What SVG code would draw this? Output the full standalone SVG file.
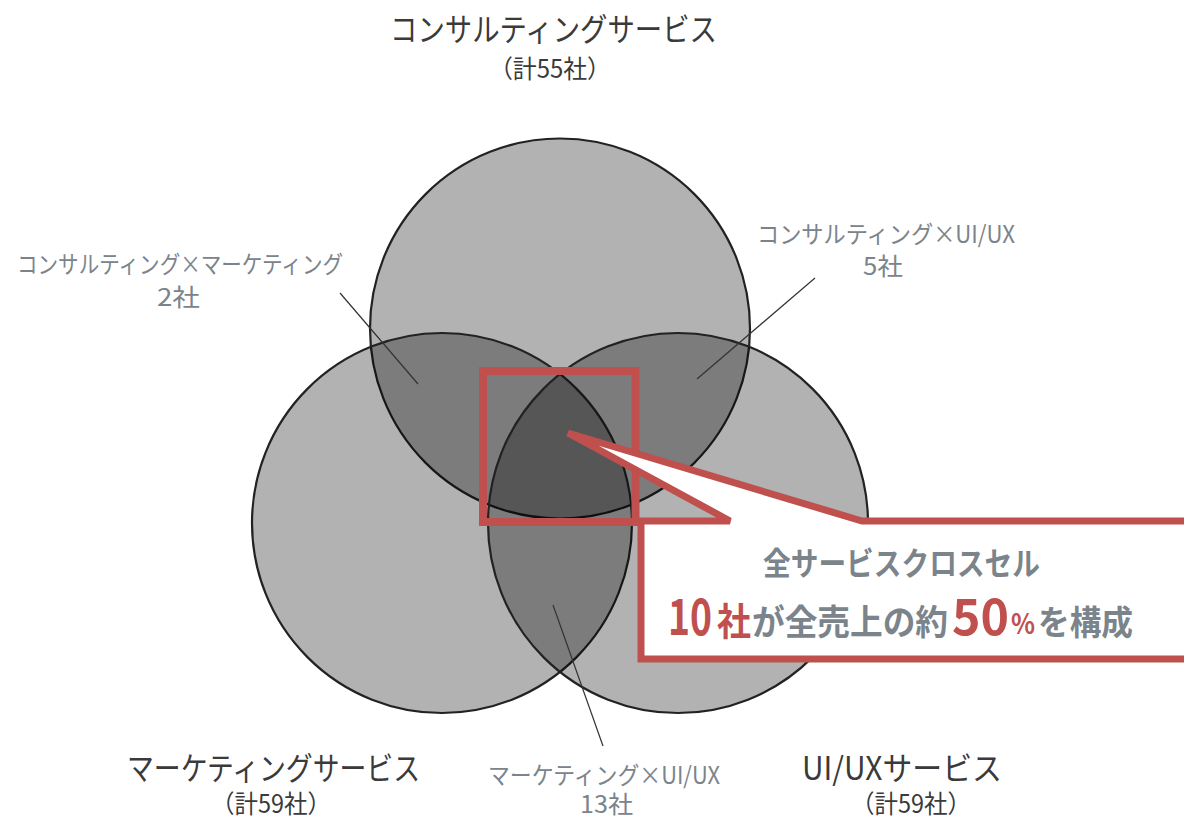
<svg xmlns="http://www.w3.org/2000/svg" width="1184" height="819" viewBox="0 0 1184 819">
<style>
text{font-family:"Noto Sans CJK JP","Noto Sans",sans-serif;}
.circ{fill:#000;fill-opacity:0.3;stroke:#222;stroke-width:2.2;}
.title{fill:#3a3a3a;font-size:32px;}
.sub{fill:#3a3a3a;font-size:25px;}
.lbl{fill:#7b848b;font-size:24px;}
.lead{stroke:#333;stroke-width:1.2;fill:none;}
.cg{fill:#7b848b;font-weight:bold;}
.cr{fill:#c0504d;font-weight:bold;}
</style>
<rect width="1184" height="819" fill="#fff"/>
<g id="circle-consulting"><circle class="circ" cx="560" cy="328.5" r="190"/></g>
<g id="circle-marketing"><circle class="circ" cx="442" cy="523" r="190"/></g>
<g id="circle-uiux"><circle class="circ" cx="678" cy="523" r="190"/></g>
<g id="connectors">
<line class="lead" x1="340" y1="293" x2="418" y2="384"/>
<line class="lead" x1="815" y1="278" x2="697" y2="379"/>
<line class="lead" x1="553" y1="605" x2="603" y2="746"/>
</g>
<g id="highlight"><rect x="483" y="371" width="152.5" height="151" fill="none" stroke="#c0504d" stroke-width="8"/></g>
<g id="callout">
<polygon points="568,433 862,521 1192,521 1192,659 641,659 641,521 730,521" fill="#fff" stroke="#c0504d" stroke-width="7"/>
<text class="cg" x="763" y="575" font-size="32" textLength="277" lengthAdjust="spacingAndGlyphs">全サービスクロスセル</text>
<text class="cr" x="668" y="635" font-size="50" textLength="44" lengthAdjust="spacingAndGlyphs">10</text>
<text class="cr" x="717" y="635" font-size="38" textLength="34" lengthAdjust="spacingAndGlyphs">社</text>
<text class="cg" x="752" y="635" font-size="35" textLength="196" lengthAdjust="spacingAndGlyphs">が全売上の約</text>
<text class="cr" x="952" y="635" font-size="50" textLength="57" lengthAdjust="spacingAndGlyphs">50</text>
<text class="cr" x="1011" y="634" font-size="28" textLength="24" lengthAdjust="spacingAndGlyphs">%</text>
<text class="cg" x="1038" y="635" font-size="34" textLength="95" lengthAdjust="spacingAndGlyphs">を構成</text>
</g>
<g id="label-consulting">
<text class="title" x="390" y="41" textLength="327" lengthAdjust="spacingAndGlyphs">コンサルティングサービス</text>
<text class="sub" x="489" y="78" textLength="122" lengthAdjust="spacingAndGlyphs">（計55社）</text>
</g>
<g id="label-marketing">
<text class="title" x="127" y="780" textLength="293" lengthAdjust="spacingAndGlyphs">マーケティングサービス</text>
<text class="sub" x="211" y="813" textLength="120" lengthAdjust="spacingAndGlyphs">（計59社）</text>
</g>
<g id="label-uiux">
<text class="title" x="802" y="780" textLength="200" lengthAdjust="spacingAndGlyphs">UI/UXサービス</text>
<text class="sub" x="851" y="813" textLength="120" lengthAdjust="spacingAndGlyphs">（計59社）</text>
</g>
<g id="label-cm">
<text class="lbl" x="17" y="273" textLength="326" lengthAdjust="spacingAndGlyphs">コンサルティング×マーケティング</text>
<text class="lbl" x="157" y="306" textLength="43" lengthAdjust="spacingAndGlyphs">2社</text>
</g>
<g id="label-cu">
<text class="lbl" x="757" y="243" textLength="258" lengthAdjust="spacingAndGlyphs">コンサルティング×UI/UX</text>
<text class="lbl" x="863" y="275" textLength="40" lengthAdjust="spacingAndGlyphs">5社</text>
</g>
<g id="label-mu">
<text class="lbl" x="488" y="784" textLength="232" lengthAdjust="spacingAndGlyphs">マーケティング×UI/UX</text>
<text class="lbl" x="580" y="813" textLength="53" lengthAdjust="spacingAndGlyphs">13社</text>
</g>
</svg>
